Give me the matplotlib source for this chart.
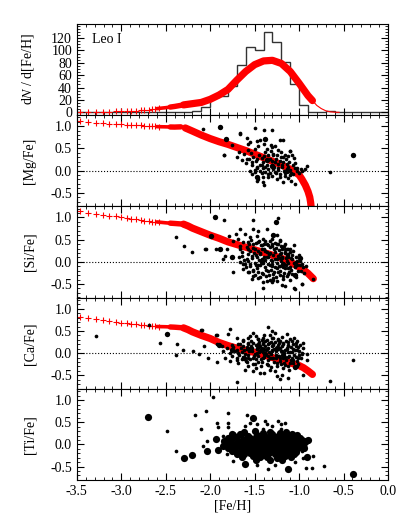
import numpy as np
import matplotlib
matplotlib.use('Agg')
import matplotlib.pyplot as plt
from matplotlib.ticker import MultipleLocator, FixedLocator

plt.rcParams['font.family'] = ['Liberation Serif', 'DejaVu Serif']
plt.rcParams['font.size'] = 10
plt.rcParams['mathtext.fontset'] = 'stix'

# ---- MDF histogram (0.1 dex bins from -3.5 to 0.0) ----
hist_edges = [-3.5 + 0.1 * i for i in range(36)]
hist_counts = [0, 0, 0, 0, 0, 0, 0, 0, 0, 0, 0, 0, 1, 2, 9,
               25, 26, 42, 76, 106, 100, 130, 113, 81, 46,
               12, 1, 0, 2, 0, 0, 1, 0, 0, 0]

# ---- model MDF ----
mdf_sparse_x = [-3.46, -3.38, -3.29, -3.21, -3.14, -3.06, -3.0, -2.94, -2.89, -2.83,
                -2.78, -2.74, -2.69, -2.65, -2.62, -2.58]
mdf_sparse_y = [0.5, 0.6, 0.8, 1.0, 1.2, 1.5, 1.8, 2.1, 2.5, 2.9,
                3.3, 3.8, 4.3, 4.9, 5.5, 6.2]
mdf_dense_x = [-2.6, -2.5, -2.45, -2.4, -2.3, -2.2, -2.1, -2.0, -1.9, -1.8, -1.7, -1.6,
               -1.5, -1.4, -1.3, -1.2, -1.1, -1.0, -0.9, -0.85]
mdf_dense_y = [6.0, 7.5, 8.5, 9.5, 12, 14, 16, 21, 28, 37, 52, 66,
               77, 83, 84, 79, 66, 47, 27, 19]
mdf_tail_x = [-0.85, -0.8, -0.75, -0.7, -0.65, -0.6, -0.55]
mdf_tail_y = [19, 11, 6, 2.5, 0.8, 0.2, 0.0]

# ---- model abundance tracks: sparse '+' markers then dense band ----
trk_sparse_x = [-3.46, -3.38, -3.29, -3.21, -3.14, -3.06, -3.0, -2.94, -2.89, -2.83,
                -2.78, -2.74, -2.69, -2.65, -2.62, -2.58]
mg_sparse_y = [1.11, 1.098, 1.083, 1.076, 1.06, 1.05, 1.045, 1.038, 1.03, 1.02,
               1.02, 1.01, 1.01, 1.0, 1.0, 0.99]
si_sparse_y = [1.136, 1.106, 1.083, 1.06, 1.038, 1.023, 1.0, 0.985, 0.97, 0.955,
               0.947, 0.93, 0.917, 0.909, 0.905, 0.90]
ca_sparse_y = [0.81, 0.788, 0.765, 0.742, 0.72, 0.705, 0.69, 0.674, 0.659, 0.65,
               0.636, 0.629, 0.62, 0.614, 0.606, 0.60]

mg_dense_x = [-2.6, -2.5, -2.45, -2.4, -2.33, -2.28, -2.2, -2.1, -2.0, -1.9, -1.8, -1.7,
              -1.6, -1.5, -1.4, -1.3, -1.2, -1.1, -1.05, -1.0, -0.97, -0.93, -0.9, -0.88,
              -0.87, -0.86]
mg_dense_y = [0.99, 0.985, 0.982, 0.98, 0.985, 0.96, 0.89, 0.80, 0.72, 0.65, 0.59, 0.52,
              0.45, 0.37, 0.29, 0.21, 0.13, 0.03, -0.03, -0.10, -0.19, -0.33, -0.47, -0.60,
              -0.72, -0.9]
si_dense_x = [-2.6, -2.5, -2.45, -2.4, -2.3, -2.25, -2.2, -2.1, -2.0, -1.9, -1.8, -1.7,
              -1.6, -1.5, -1.4, -1.3, -1.2, -1.1, -1.0, -0.95, -0.9, -0.84]
si_dense_y = [0.90, 0.88, 0.872, 0.865, 0.85, 0.81, 0.76, 0.68, 0.60, 0.53, 0.45, 0.39,
              0.33, 0.27, 0.21, 0.15, 0.08, 0.0, -0.12, -0.18, -0.26, -0.38]
ca_dense_x = [-2.6, -2.5, -2.45, -2.4, -2.3, -2.25, -2.2, -2.1, -2.0, -1.9, -1.8, -1.7,
              -1.6, -1.5, -1.4, -1.3, -1.2, -1.1, -1.0, -0.95, -0.9, -0.85]
ca_dense_y = [0.60, 0.595, 0.59, 0.585, 0.57, 0.53, 0.48, 0.40, 0.33, 0.24, 0.17, 0.11,
              0.06, 0.015, -0.04, -0.10, -0.16, -0.22, -0.28, -0.33, -0.40, -0.48]

# ---- observed stars ([Fe/H], [X/Fe]) ----
mg_small = [(-2.08, 0.93), (-1.665, 0.856), (-1.50, 0.95), (-1.39, 0.91), (-1.30, 0.91),
            (-1.59, 0.73), (-1.553, 0.644), (-1.478, 0.66), (-1.44, 0.68), (-1.317, 0.568),
            (-1.30, 0.53), (-1.216, 0.68), (-1.178, 0.68), (-1.752, 0.568), (-1.572, 0.455),
            (-1.54, 0.40), (-1.497, 0.49), (-1.384, 0.417), (-1.347, 0.356), (-1.29, 0.38),
            (-1.253, 0.34), (-1.204, 0.303), (-1.16, 0.356), (-1.103, 0.43), (-1.084, 0.34),
            (-1.054, 0.28), (-1.842, 0.34), (-1.703, 0.303), (-1.647, 0.227), (-1.59, 0.265),
            (-1.534, 0.19), (-1.478, 0.265), (-1.422, 0.28), (-1.403, 0.19), (-1.309, 0.205),
            (-1.272, 0.19), (-1.234, 0.15), (-1.178, 0.19), (-1.141, 0.15), (-1.534, 0.114),
            (-1.478, 0.076), (-1.422, 0.114), (-1.384, 0.076), (-1.347, 0.038), (-1.29, 0.038),
            (-1.234, 0.053), (-1.197, 0.076), (-1.141, 0.038), (-1.103, 0.015), (-1.047, 0.053),
            (-1.028, 0.0), (-0.972, 0.0), (-0.916, 0.098), (-0.934, 0.038), (-1.553, 0.0),
            (-1.497, -0.038), (-1.44, 0.0), (-1.384, -0.038), (-1.328, -0.053), (-1.272, -0.023),
            (-1.216, -0.076), (-1.16, -0.053), (-1.103, -0.098), (-1.066, -0.076), (-1.46, -0.19),
            (-1.403, -0.15), (-1.347, -0.15), (-1.253, -0.19), (-1.178, -0.25), (-1.092, -0.227),
            (-1.047, -0.303), (-1.403, -0.265), (-1.392, -0.318), (-1.478, -0.227), (-0.653, -0.038),
            (-1.66, 0.83), (-1.84, 0.36), (-1.52, 0.30), (-1.45, 0.35), (-1.41, 0.05),
            (-1.36, 0.12), (-1.33, 0.26), (-1.31, 0.13), (-1.28, 0.08), (-1.26, 0.25),
            (-1.24, 0.02), (-1.22, 0.22), (-1.19, 0.12), (-1.17, -0.02), (-1.15, 0.26),
            (-1.13, 0.08), (-1.11, 0.20), (-1.09, -0.05), (-1.07, 0.12), (-1.05, 0.18),
            (-1.02, 0.06), (-1.0, -0.06), (-0.98, 0.04), (-1.44, 0.12), (-1.48, 0.22),
            (-1.50, 0.02), (-1.56, 0.25), (-1.60, 0.18), (-1.62, 0.38), (-1.68, 0.42),
            (-1.58, 0.60), (-1.46, 0.55), (-1.40, 0.60), (-1.36, 0.48), (-1.32, 0.44),
            (-1.27, 0.55), (-1.24, 0.46), (-1.20, 0.42), (-1.18, 0.30), (-1.12, 0.32),
            (-1.10, 0.44), (-1.35, -0.08), (-1.30, -0.12), (-1.26, -0.05), (-1.21, -0.14),
            (-1.16, -0.12), (-1.12, -0.18), (-1.42, -0.05), (-1.47, 0.05), (-1.53, -0.08),
            (-1.39, 0.32), (-1.29, 0.34)]
mg_big = [(-1.89, 0.985), (-1.384, 0.70), (-1.827, 0.72), (-1.366, 0.227),
          (-1.478, -0.15), (-0.398, 0.356), (-1.30, 0.10), (-1.14, 0.0)]

si_small = [(-2.38, 0.55), (-2.30, 0.36), (-2.21, 0.23), (-2.05, 0.29), (-0.968, -0.49),
            (-1.06, -0.6), (-0.84, -0.38), (-0.92, -0.09), (-1.242, 0.98), (-2.06, 0.286),
            (-1.842, 0.948), (-1.936, 0.30), (-1.853, 0.06), (-1.516, 0.94), (-1.666, 0.737),
            (-1.516, 0.75), (-1.46, 0.70), (-1.366, 0.737), (-1.246, 0.602), (-1.786, 0.587),
            (-1.711, 0.625), (-1.61, 0.625), (-1.553, 0.55), (-1.478, 0.572), (-1.403, 0.512),
            (-1.328, 0.474), (-1.216, 0.474), (-1.16, 0.4), (-1.122, 0.30), (-1.103, 0.30),
            (-1.74, 0.474), (-1.685, 0.512), (-1.628, 0.436), (-1.572, 0.436), (-1.516, 0.4),
            (-1.46, 0.436), (-1.422, 0.376), (-1.366, 0.4), (-1.31, 0.361), (-1.253, 0.4),
            (-1.197, 0.324), (-1.16, 0.286), (-1.816, 0.286), (-1.666, 0.30), (-1.59, 0.324),
            (-1.553, 0.248), (-1.497, 0.286), (-1.44, 0.21), (-1.384, 0.248), (-1.328, 0.21),
            (-1.272, 0.226), (-1.216, 0.173), (-1.16, 0.21), (-1.122, 0.135), (-1.835, 0.135),
            (-1.647, 0.135), (-1.59, 0.06), (-1.535, 0.135), (-1.478, 0.098), (-1.422, 0.06),
            (-1.366, 0.098), (-1.31, 0.023), (-1.253, 0.06), (-1.197, 0.075), (-1.141, 0.023),
            (-1.084, 0.06), (-1.028, 0.023), (-1.666, -0.015), (-1.61, -0.053), (-1.553, -0.09),
            (-1.497, -0.03), (-1.44, -0.075), (-1.384, -0.128), (-1.328, -0.075), (-1.272, -0.128),
            (-1.216, -0.09), (-1.16, -0.15), (-1.103, -0.113), (-1.047, -0.09), (-0.991, -0.075),
            (-0.953, -0.128), (-1.628, -0.166), (-1.572, -0.24), (-1.516, -0.203), (-1.46, -0.226),
            (-1.403, -0.28), (-1.347, -0.203), (-1.291, -0.28), (-1.235, -0.24), (-1.178, -0.316),
            (-1.122, -0.28), (-1.74, -0.24), (-1.366, -0.43), (-1.31, -0.466), (-1.253, -0.43),
            (-1.197, -0.527), (-1.403, -0.58), (-1.16, -0.54), (-1.047, -0.617), (-0.972, -0.504),
            (-1.291, -0.354), (-1.46, -0.354), (-1.516, -0.316),
            (-1.62, 0.05), (-1.58, 0.18), (-1.55, -0.05), (-1.52, 0.32), (-1.49, 0.15),
            (-1.47, -0.15), (-1.45, 0.05), (-1.43, 0.38), (-1.41, -0.02), (-1.39, 0.28),
            (-1.37, -0.18), (-1.35, 0.10), (-1.33, 0.33), (-1.31, -0.10), (-1.29, 0.16),
            (-1.27, 0.42), (-1.25, -0.02), (-1.23, 0.26), (-1.21, -0.20), (-1.19, 0.12),
            (-1.17, 0.36), (-1.15, -0.08), (-1.13, 0.18), (-1.11, -0.22), (-1.09, 0.08),
            (-1.07, 0.25), (-1.05, -0.12), (-1.03, 0.12), (-1.01, -0.20), (-0.99, 0.02),
            (-0.97, -0.05), (-1.56, 0.40), (-1.50, -0.30), (-1.44, -0.35), (-1.38, 0.47),
            (-1.34, -0.30), (-1.30, 0.52), (-1.26, -0.35), (-1.22, 0.50), (-1.18, -0.38),
            (-1.14, 0.30), (-1.10, -0.42), (-1.06, 0.38), (-1.40, 0.12), (-1.36, 0.22),
            (-1.32, 0.03), (-1.28, -0.22), (-1.24, 0.14), (-1.20, 0.02), (-1.16, 0.22),
            (-1.12, -0.02), (-1.08, -0.28), (-1.46, 0.25), (-1.53, 0.08), (-1.60, -0.12),
            (-1.64, 0.22), (-1.68, 0.10), (-1.48, 0.42), (-1.42, -0.25), (-1.31, 0.40),
            (-1.23, -0.10), (-1.19, 0.30), (-1.15, 0.08), (-1.35, -0.05), (-1.27, 0.06),
            (-1.44, 0.18), (-1.52, -0.18), (-1.58, 0.30), (-1.33, -0.40), (-1.21, -0.30),
            (-1.13, -0.15), (-1.04, -0.35), (-1.00, 0.15),
            (-1.57, 0.02), (-1.51, 0.20), (-1.48, -0.08), (-1.42, 0.30), (-1.38, 0.05),
            (-1.34, 0.18), (-1.30, -0.04), (-1.26, 0.32), (-1.22, 0.08), (-1.18, -0.12),
            (-1.14, 0.15), (-1.10, 0.22), (-1.06, -0.02), (-1.02, -0.08), (-1.37, -0.32),
            (-1.29, -0.42), (-1.25, -0.15), (-1.17, -0.25), (-1.41, -0.45), (-1.56, -0.22),
            (-1.63, -0.05), (-1.66, 0.36), (-1.54, 0.50), (-1.45, 0.48), (-1.35, 0.38),
            (-1.28, 0.30), (-1.20, 0.20), (-1.12, 0.10), (-1.09, -0.18), (-1.03, 0.00),
            (-0.98, -0.20), (-0.94, -0.25), (-1.14, -0.32), (-1.32, -0.18), (-1.46, -0.08),
            (-1.40, 0.40), (-1.24, 0.40), (-1.20, 0.36), (-1.08, 0.16), (-1.53, -0.38)]
si_big = [(-1.947, 1.0), (-1.996, 0.587), (-1.26, 0.888), (-1.291, 0.602), (-1.89, 0.30),
          (-1.76, 0.098), (-0.991, 0.075), (-1.047, -0.30), (-1.42, 0.0), (-1.18, -0.05)]

ca_small = [(-3.29, 0.39), (-2.69, 0.64), (-2.57, 0.22), (-2.375, 0.2), (-2.39, -0.04),
            (-2.31, 0.07), (-2.19, 0.05), (-2.13, -0.02), (-2.1, 0.52), (-2.07, 0.17),
            (-2.03, -0.1), (-1.925, -0.2), (-1.93, 0.42), (-1.7, -0.65), (-0.65, -0.63),
            (-0.39, -0.16), (-2.097, 0.515), (-1.778, 0.537), (-1.92, 0.41), (-1.797, 0.424),
            (-1.703, 0.348), (-1.628, 0.273), (-1.515, 0.462), (-1.354, 0.59), (-1.31, 0.5),
            (-1.553, 0.386), (-1.459, 0.31), (-1.403, 0.348), (-1.29, 0.348), (-1.234, 0.288),
            (-1.14, 0.424), (-1.103, 0.31), (-1.028, 0.273), (-0.953, 0.235), (-1.928, 0.197),
            (-1.872, 0.16), (-1.815, 0.12), (-1.76, 0.18), (-1.684, 0.21), (-1.628, 0.16),
            (-1.572, 0.197), (-1.515, 0.235), (-1.459, 0.197), (-1.403, 0.235), (-1.347, 0.197),
            (-1.29, 0.21), (-1.234, 0.18), (-1.178, 0.21), (-1.122, 0.18), (-1.065, 0.197),
            (-1.009, 0.14), (-1.853, 0.045), (-1.778, 0.0), (-1.703, 0.06), (-1.647, 0.03),
            (-1.59, 0.083), (-1.534, 0.045), (-1.478, 0.083), (-1.422, 0.045), (-1.366, 0.083),
            (-1.31, 0.045), (-1.253, 0.083), (-1.197, 0.045), (-1.141, 0.083), (-1.084, 0.03),
            (-1.028, 0.06), (-0.972, 0.008), (-0.915, -0.03), (-0.908, -0.144), (-1.834, -0.106),
            (-1.76, -0.068), (-1.703, -0.144), (-1.628, -0.09), (-1.572, -0.045), (-1.515, -0.106),
            (-1.459, -0.068), (-1.403, -0.12), (-1.347, -0.068), (-1.29, -0.106), (-1.234, -0.068),
            (-1.178, -0.12), (-1.122, -0.09), (-1.065, -0.144), (-1.009, -0.12), (-1.778, -0.182),
            (-1.684, -0.22), (-1.59, -0.197), (-1.497, -0.242), (-1.422, -0.197), (-1.347, -0.258),
            (-1.253, -0.22), (-1.159, -0.258), (-1.103, -0.22), (-1.028, -0.296), (-1.609, -0.372),
            (-1.515, -0.41), (-1.44, -0.447), (-1.328, -0.372), (-1.245, -0.523), (-1.197, -0.485),
            (-1.122, -0.56), (-1.216, -0.576), (-0.953, -0.5),
            (-1.72, 0.05), (-1.68, -0.05), (-1.65, 0.12), (-1.61, -0.02), (-1.58, 0.22),
            (-1.55, -0.14), (-1.53, 0.12), (-1.50, -0.02), (-1.48, 0.18), (-1.46, -0.20),
            (-1.44, 0.08), (-1.42, 0.30), (-1.40, -0.08), (-1.38, 0.15), (-1.36, -0.25),
            (-1.34, 0.02), (-1.32, 0.26), (-1.30, -0.12), (-1.28, 0.10), (-1.26, -0.04),
            (-1.24, 0.32), (-1.22, -0.18), (-1.20, 0.05), (-1.18, 0.22), (-1.16, -0.08),
            (-1.14, 0.12), (-1.12, -0.30), (-1.10, 0.02), (-1.08, 0.28), (-1.06, -0.05),
            (-1.04, 0.15), (-1.02, -0.18), (-1.00, 0.05), (-0.98, -0.10), (-0.96, 0.12),
            (-1.63, 0.30), (-1.57, 0.35), (-1.49, 0.38), (-1.39, 0.42), (-1.33, 0.40),
            (-1.27, 0.45), (-1.19, 0.36), (-1.45, 0.25), (-1.37, 0.08), (-1.29, 0.18),
            (-1.21, 0.12), (-1.13, 0.02), (-1.35, -0.15), (-1.25, -0.28), (-1.17, -0.22),
            (-1.43, -0.30), (-1.52, -0.25), (-1.60, -0.18), (-1.70, -0.12), (-1.66, 0.20),
            (-1.56, 0.05), (-1.47, 0.00), (-1.41, 0.20), (-1.31, 0.06), (-1.23, -0.06),
            (-1.15, 0.28), (-1.07, 0.10), (-1.01, -0.25), (-1.09, -0.15), (-1.27, -0.40),
            (-1.39, -0.45), (-1.11, -0.38),
            (-1.74, 0.13), (-1.69, 0.00), (-1.64, -0.14), (-1.59, 0.14), (-1.54, 0.27),
            (-1.51, -0.06), (-1.47, 0.12), (-1.43, -0.14), (-1.41, 0.02), (-1.38, 0.27),
            (-1.35, 0.12), (-1.33, -0.10), (-1.30, 0.16), (-1.28, -0.20), (-1.26, 0.05),
            (-1.23, 0.22), (-1.21, -0.10), (-1.19, 0.16), (-1.17, 0.00), (-1.15, -0.16),
            (-1.13, 0.24), (-1.11, -0.06), (-1.09, 0.14), (-1.07, -0.22), (-1.05, 0.06),
            (-1.03, -0.08), (-0.99, 0.18), (-0.97, -0.02), (-1.62, 0.06), (-1.57, -0.10),
            (-1.49, -0.14), (-1.45, 0.02), (-1.39, 0.10), (-1.36, 0.30), (-1.32, -0.02),
            (-1.27, 0.24), (-1.24, 0.10), (-1.20, -0.24), (-1.16, 0.08), (-1.12, 0.16),
            (-1.08, -0.10), (-1.04, 0.22), (-1.00, -0.04), (-1.46, 0.32), (-1.30, 0.34),
            (-1.22, 0.28), (-1.58, -0.30), (-1.48, -0.34), (-1.32, -0.32), (-1.18, -0.34),
            (-1.06, 0.34), (-1.54, 0.16), (-1.42, 0.12), (-1.34, 0.22), (-1.26, -0.12)]
ca_big = [(-2.49, 0.43), (-1.905, 0.18), (-1.75, 0.08), (-1.55, 0.10), (-1.38, -0.02),
          (-1.25, 0.12), (-1.05, -0.32), (-1.45, 0.15), (-1.18, -0.05), (-1.62, -0.10)]

ti_small = [(-1.965, 1.066), (-2.052, 0.747), (-2.17, 0.66), (-2.108, 0.355), (-2.385, -0.14),
            (-2.078, -0.045), (-2.04, 0.08), (-1.928, 0.488), (-1.909, 0.40), (-1.86, 0.19),
            (-1.804, 0.71), (-1.797, 0.488), (-1.797, 0.40), (-1.853, 0.007), (-1.816, -0.215),
            (-1.74, -0.363), (-1.703, 0.118), (-1.666, 0.266), (-1.609, 0.414), (-1.59, 0.673),
            (-1.553, 0.488), (-1.478, 0.45), (-1.384, 0.525), (-1.366, 0.45), (-1.234, 0.525),
            (-1.207, 0.45), (-1.159, 0.488), (-1.403, 0.34), (-1.309, 0.414), (-1.478, -0.475),
            (-1.347, -0.55), (-1.272, -0.475), (-1.047, -0.4), (-0.953, -0.312), (-0.84, -0.252),
            (-0.923, -0.534), (-0.851, -0.534), (-0.72, -0.49), (-0.934, -0.03), (-0.971, -0.14),
            (-1.028, 0.118), (-1.084, 0.192), (-1.14, 0.266), (-1.204, 0.34), (-2.49, 0.30)]
ti_big = [(-2.70, 0.62), (-2.295, -0.30), (-2.2, -0.24), (-2.033, -0.14), (-1.935, 0.118),
          (-1.909, -0.12), (-1.76, 0.229), (-1.515, 0.6), (-1.609, -0.437), (-1.122, -0.55),
          (-0.908, -0.29), (-0.896, 0.103), (-0.395, -0.657),
          (-1.62, 0.27), (-1.50, 0.30), (-1.41, 0.26), (-1.33, 0.29), (-1.22, 0.25),
          (-1.15, 0.28), (-1.08, 0.24),
          (-1.74, 0.21), (-1.66, 0.23), (-1.57, 0.20), (-1.47, 0.22), (-1.39, 0.19),
          (-1.30, 0.23), (-1.24, 0.20), (-1.17, 0.22), (-1.10, 0.19), (-1.02, 0.21),
          (-1.80, 0.14), (-1.71, 0.16), (-1.63, 0.13), (-1.55, 0.15), (-1.48, 0.17),
          (-1.42, 0.14), (-1.35, 0.16), (-1.27, 0.13), (-1.20, 0.15), (-1.13, 0.16),
          (-1.06, 0.13), (-0.99, 0.15),
          (-1.84, 0.08), (-1.77, 0.10), (-1.69, 0.07), (-1.61, 0.09), (-1.53, 0.08),
          (-1.46, 0.10), (-1.38, 0.07), (-1.31, 0.09), (-1.25, 0.10), (-1.18, 0.07),
          (-1.11, 0.09), (-1.04, 0.08), (-0.97, 0.10), (-0.92, 0.07),
          (-1.82, 0.03), (-1.74, 0.02), (-1.66, 0.04), (-1.59, 0.02), (-1.51, 0.03),
          (-1.44, 0.01), (-1.36, 0.04), (-1.29, 0.02), (-1.21, 0.03), (-1.14, 0.01),
          (-1.07, 0.04), (-1.00, 0.02), (-0.94, 0.03),
          (-1.86, -0.03), (-1.78, -0.04), (-1.70, -0.02), (-1.62, -0.03), (-1.55, -0.05),
          (-1.47, -0.02), (-1.40, -0.03), (-1.33, -0.04), (-1.26, -0.02), (-1.19, -0.03),
          (-1.12, -0.05), (-1.05, -0.02), (-0.98, -0.04),
          (-1.80, -0.09), (-1.73, -0.10), (-1.65, -0.08), (-1.58, -0.09), (-1.50, -0.11),
          (-1.43, -0.08), (-1.36, -0.09), (-1.28, -0.10), (-1.22, -0.08), (-1.15, -0.09),
          (-1.08, -0.10), (-1.01, -0.08), (-0.95, -0.09),
          (-1.76, -0.15), (-1.68, -0.16), (-1.60, -0.14), (-1.53, -0.15), (-1.45, -0.17),
          (-1.38, -0.14), (-1.31, -0.15), (-1.24, -0.16), (-1.17, -0.14), (-1.10, -0.15),
          (-1.03, -0.16),
          (-1.70, -0.21), (-1.62, -0.22), (-1.55, -0.20), (-1.48, -0.21), (-1.41, -0.23),
          (-1.34, -0.20), (-1.27, -0.21), (-1.20, -0.22), (-1.13, -0.20), (-1.06, -0.21),
          (-1.64, -0.28), (-1.52, -0.27), (-1.44, -0.29), (-1.36, -0.28), (-1.25, -0.30),
          (-1.16, -0.27), (-1.09, -0.29), (-1.48, -0.35), (-1.33, -0.34), (-1.19, -0.36)]

fig, axes = plt.subplots(5, 1, figsize=(4.11, 5.29), dpi=100, sharex=True)
fig.subplots_adjust(left=0.187, right=0.944, top=0.955, bottom=0.092, hspace=0)

RED = '#ff0000'


def draw_track(ax, sp_x, sp_y, dx, dy):
    # sparse '+' steps, then the band thickens as the model steps crowd together
    ax.plot(sp_x, sp_y, '+', color=RED, ms=5, mew=0.8)
    dx = np.asarray(dx)
    dy = np.asarray(dy)
    seg1 = dx <= -2.45
    seg2 = (dx >= -2.45) & (dx <= -2.3)
    seg3 = dx >= -2.3
    ax.plot(dx[seg1], dy[seg1], '-', color=RED, lw=2.6, solid_capstyle='round')
    ax.plot(dx[seg2], dy[seg2], '-', color=RED, lw=3.9, solid_capstyle='round')
    ax.plot(dx[seg3], dy[seg3], '-', color=RED, lw=5.2, solid_capstyle='round')


# Top panel: MDF
ax = axes[0]
ax.stairs(hist_counts, hist_edges, color='0.2', lw=1.0)
draw_track(ax, mdf_sparse_x, mdf_sparse_y, mdf_dense_x, mdf_dense_y)
ax.plot(mdf_tail_x, mdf_tail_y, '-', color=RED, lw=0.8)
ax.set_ylim(-4.5, 143)
ax.yaxis.set_major_locator(FixedLocator([0, 20, 40, 60, 80, 100, 120]))
ax.yaxis.set_minor_locator(MultipleLocator(5))
ax.set_ylabel(r'd$N$ / d[Fe/H]')
ax.text(0.05, 0.9, 'Leo I', transform=ax.transAxes, ha='left', va='top', fontsize=10)

# Abundance panels
panels = [
    ('[Mg/Fe]', mg_sparse_y, mg_dense_x, mg_dense_y, mg_small, mg_big),
    ('[Si/Fe]', si_sparse_y, si_dense_x, si_dense_y, si_small, si_big),
    ('[Ca/Fe]', ca_sparse_y, ca_dense_x, ca_dense_y, ca_small, ca_big),
]
for ax, (lab, sp_y, dx, dy, small, big) in zip(axes[1:4], panels):
    ax.axhline(0, color='k', ls=':', lw=0.8)
    draw_track(ax, trk_sparse_x, sp_y, dx, dy)
    sx, sy = zip(*small)
    bx, by = zip(*big)
    ax.scatter(sx, sy, s=7, c='k', lw=0, zorder=3)
    ax.scatter(bx, by, s=15, c='k', lw=0, zorder=3)
    ax.set_ylabel(lab)

ax = axes[4]
sx, sy = zip(*ti_small)
bx, by = zip(*ti_big)
ax.scatter(sx, sy, s=7, c='k', lw=0, zorder=3)
ax.scatter(bx, by, s=27, c='k', lw=0, zorder=3)
ax.set_ylabel('[Ti/Fe]')

for ax in axes[1:]:
    ax.set_ylim(-0.81, 1.25)
    ax.yaxis.set_major_locator(MultipleLocator(0.5))
    ax.yaxis.set_minor_locator(MultipleLocator(0.1))
    ax.yaxis.set_major_formatter(plt.FormatStrFormatter('%.1f'))

for ax in axes:
    ax.set_xlim(-3.5, 0.0)
    ax.xaxis.set_major_locator(MultipleLocator(0.5))
    ax.xaxis.set_minor_locator(MultipleLocator(0.1))
    ax.tick_params(which='both', direction='in', top=True, right=True)
    ax.tick_params(which='major', length=5, width=0.8)
    ax.tick_params(which='minor', length=2.5, width=0.6)
    ax.yaxis.set_label_coords(-0.13, 0.5)

axes[4].xaxis.set_major_formatter(plt.FormatStrFormatter('%.1f'))
axes[4].set_xlabel('[Fe/H]', labelpad=1)

fig.savefig('out.png', dpi=100)
